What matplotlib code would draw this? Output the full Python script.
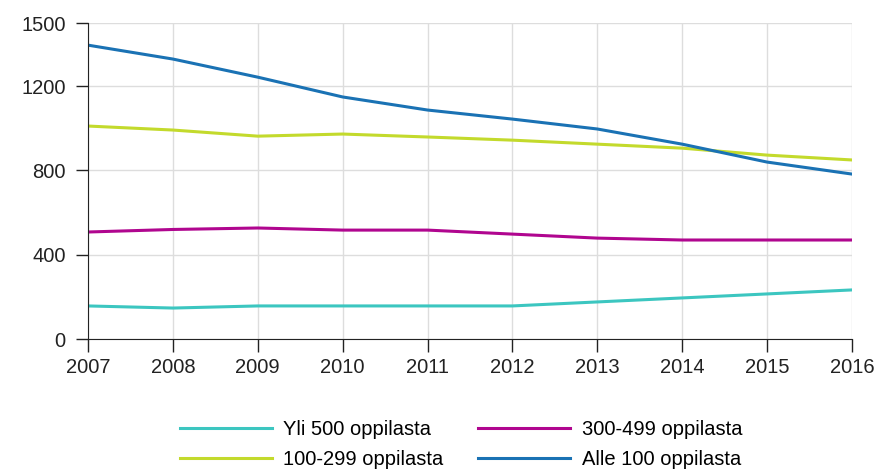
import numpy as np
import matplotlib.pyplot as plt

plt.rcParams['font.family'] = ['Liberation Sans', 'DejaVu Sans']

years = np.arange(2007, 2017)
yli_500 = [157, 147, 157, 157, 157, 157, 176, 195, 214, 233]
s300_499 = [508, 520, 527, 517, 517, 498, 479, 470, 470, 470]
s100_299 = [1011, 992, 963, 973, 959, 944, 925, 906, 873, 850]
alle_100 = [1395, 1329, 1243, 1149, 1087, 1044, 997, 925, 840, 783]

labels = ["Yli 500 oppilasta", "300-499 oppilasta", "100-299 oppilasta", "Alle 100 oppilasta"]
colors = ["#3cc6c0", "#b0068f", "#c3da2c", "#1a72b4"]

fig = plt.figure(figsize=(8.76, 4.70), dpi=100)
ax = fig.add_axes([0.1005, 0.2787, 0.872, 0.6723])

lines = []
for vals, lab, col in zip([yli_500, s300_499, s100_299, alle_100], labels, colors):
    ln, = ax.plot(years, vals, color=col, lw=2.2, label=lab)
    lines.append(ln)

ax.set_xlim(2007, 2016)
ax.set_ylim(0, 1500)
ax.set_xticks(years)
ax.set_yticks([0, 400, 800, 1200, 1500])
ax.grid(True, color="#dddddd", lw=1)
ax.set_axisbelow(True)
for s in ["top", "right"]:
    ax.spines[s].set_visible(False)
for s in ["left", "bottom"]:
    ax.spines[s].set_color("#222222")
ax.tick_params(axis="both", labelsize=14.5, colors="#222222", length=9, width=1)
ax.tick_params(axis="y", pad=7)
ax.tick_params(axis="x", pad=5)

# legend is filled row by row in the reference
order = [0, 2, 1, 3]
ax.legend([lines[i] for i in order], [labels[i] for i in order],
          loc="center", bbox_to_anchor=(0.488, -0.333), ncol=2, frameon=False,
          fontsize=14.5, handlelength=4.6, columnspacing=1.7, labelspacing=0.55, handletextpad=0.55)

fig.savefig("out.png", dpi=100)
